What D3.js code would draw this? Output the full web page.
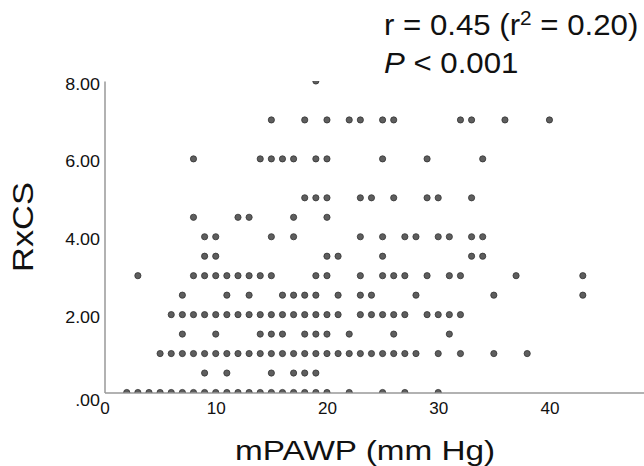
<!DOCTYPE html>
<html>
<head>
<meta charset="utf-8">
<script src="https://cdn.jsdelivr.net/npm/d3@7"></script>
<style>
  body { margin: 0; background: #fff; }
  svg text { font-family: "Liberation Sans", Arial, sans-serif; fill: #111; }
</style>
</head>
<body>
<div id="chart"></div>
<script>
// mPAWP values observed at each RxCS level
const rxcs0 = [2, 3, 4, 5, 6, 7, 8, 9, 10, 11, 12, 13, 14, 15, 16, 17, 18, 19, 20, 22, 25, 27, 30];
const rxcs05 = [9, 11, 15, 17, 18, 19];
const rxcs1 = [5, 6, 7, 8, 9, 10, 11, 12, 13, 14, 15, 16, 17, 18, 19, 20, 21, 22, 23, 24, 25, 26, 27, 28, 30, 32, 35, 38];
const rxcs15 = [7, 10, 14, 15, 16, 18, 19, 20, 22, 26, 31];
const rxcs2 = [6, 7, 8, 9, 10, 11, 12, 13, 14, 15, 16, 17, 18, 19, 20, 21, 23, 24, 25, 26, 27, 29, 30, 31, 32];
const rxcs25 = [7, 11, 13, 16, 17, 18, 19, 21, 23, 24, 28, 35, 43];
const rxcs3 = [3, 8, 9, 10, 11, 12, 13, 14, 15, 19, 20, 23, 25, 26, 27, 29, 31, 32, 37, 43];
const rxcs35 = [9, 10, 20, 21, 25, 33, 34];
const rxcs4 = [9, 10, 15, 17, 23, 25, 27, 28, 30, 31, 33, 34];
const rxcs45 = [8, 12, 13, 17, 20];
const rxcs5 = [18, 19, 20, 23, 24, 26, 29, 30, 33];
const rxcs6 = [8, 14, 15, 16, 17, 19, 20, 25, 29, 34];
const rxcs7 = [15, 18, 20, 22, 23, 25, 26, 32, 33, 36, 40];
const rxcs8 = [19];

const xTicks = [0, 10, 20, 30, 40];
const yTicks = [0, 2, 4, 6, 8];
const yTickLabels = [".00", "2.00", "4.00", "6.00", "8.00"];

const width = 644, height = 466;
const margin = { top: 81, right: 0, bottom: 73.5, left: 104.5 };

const rows = [
  [0, rxcs0], [0.5, rxcs05], [1, rxcs1], [1.5, rxcs15], [2, rxcs2], [2.5, rxcs25],
  [3, rxcs3], [3.5, rxcs35], [4, rxcs4], [4.5, rxcs45], [5, rxcs5], [6, rxcs6],
  [7, rxcs7], [8, rxcs8]
];
let points = [];
rows.forEach((r) => {
  r[1].forEach((x) => points.push({ x: x, y: r[0] }));
});

const svg = d3.select("#chart").append("svg")
  .attr("width", width)
  .attr("height", height);

const xScale = d3.scaleLinear().domain([0, 48.5]).range([margin.left, width - margin.right]);
const yScale = d3.scaleLinear().domain([0, 8]).range([height - margin.bottom, margin.top]);

svg.append("clipPath").attr("id", "plotClip")
  .append("rect")
  .attr("x", margin.left)
  .attr("y", margin.top)
  .attr("width", width - margin.left)
  .attr("height", height - margin.bottom - margin.top);

// x axis
const xAxis = svg.append("g")
  .attr("transform", "translate(0," + yScale(0) + ")")
  .call(d3.axisBottom(xScale).tickValues(xTicks).tickSize(0).tickPadding(10).tickFormat(d3.format("d")));
xAxis.select(".domain").attr("stroke", "#999").attr("stroke-width", 1.5);
xAxis.selectAll(".tick text")
  .style("font-size", "16px")
  .attr("fill", "#111")
  .attr("transform", "scale(1.07,1)");

// y axis
const yAxis = svg.append("g")
  .attr("transform", "translate(" + margin.left + ",0)")
  .call(d3.axisLeft(yScale).tickValues(yTicks).tickSize(0).tickPadding(4)
    .tickFormat((d, i) => yTickLabels[i]));
yAxis.select(".domain").attr("stroke", "#999").attr("stroke-width", 1.5);
yAxis.selectAll(".tick text")
  .style("font-size", "16px")
  .attr("fill", "#111")
  .attr("transform", "scale(1.12,1)")
  .attr("dy", (d) => (d === 0 ? "0.8em" : "0.5em"));

// points
svg.append("g")
  .attr("clip-path", "url(#plotClip)")
  .selectAll("circle")
  .data(points)
  .join("circle")
  .attr("cx", (d) => xScale(d.x))
  .attr("cy", (d) => yScale(d.y))
  .attr("r", 3.1)
  .attr("fill", "#5e5e5e")
  .attr("stroke", "#333")
  .attr("stroke-width", 0.8);

// axis titles
svg.append("text")
  .attr("x", 235)
  .attr("y", 460)
  .attr("textLength", 260)
  .attr("lengthAdjust", "spacingAndGlyphs")
  .style("font-size", "28px")
  .text("mPAWP (mm Hg)");

svg.append("text")
  .attr("transform", "translate(33,272) rotate(-90)")
  .attr("textLength", 90)
  .attr("lengthAdjust", "spacingAndGlyphs")
  .style("font-size", "30px")
  .text("RxCS");

// stats annotation
const note = svg.append("text")
  .attr("transform", "translate(384,35) scale(1.04,1)")
  .style("font-size", "30px");
note.append("tspan").text("r = 0.45 (r");
note.append("tspan").attr("dy", -10).style("font-size", "20px").text("2");
note.append("tspan").attr("dy", 10).text(" = 0.20)");

const note2 = svg.append("text")
  .attr("transform", "translate(384,73) scale(1.04,1)")
  .style("font-size", "30px");
note2.append("tspan").style("font-style", "italic").text("P");
note2.append("tspan").text(" < 0.001");
</script>
</body>
</html>
